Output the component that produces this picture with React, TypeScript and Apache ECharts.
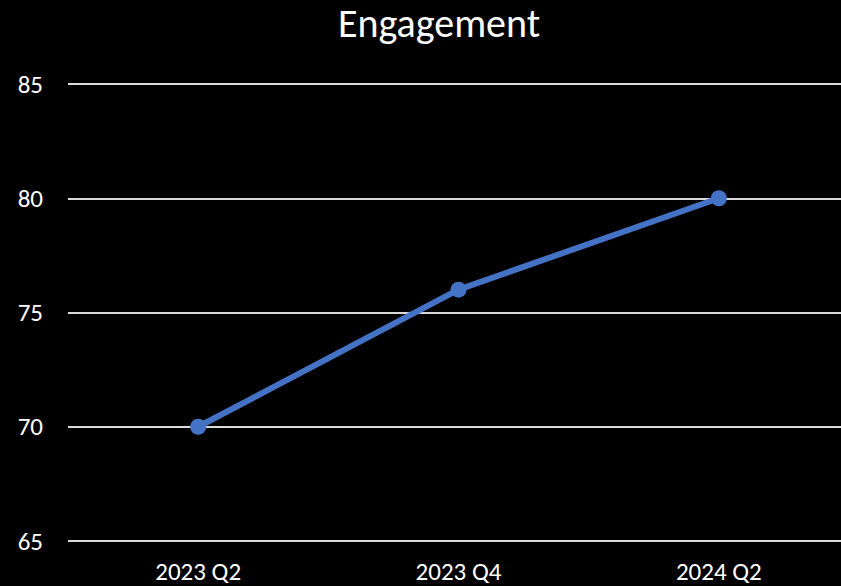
import React, { useEffect, useRef } from "react";
import * as echarts from "echarts";

const categories = ["2023 Q2", "2023 Q4", "2024 Q2"];
const engagement = [70, 76, 80];
const title = "Engagement";

export default function App() {
  const ref = useRef<HTMLDivElement>(null);
  useEffect(() => {
    document.body.style.margin = "0";
    document.body.style.background = "#000";
    const chart = echarts.init(ref.current!, null, { renderer: "svg" });
    const font = "Carlito, 'Liberation Sans', sans-serif";
    chart.setOption({
      animation: false,
      backgroundColor: "#000000",
      title: {
        text: title,
        left: 434,
        textAlign: "center",
        top: -2,
        textStyle: { color: "#ffffff", fontSize: 40, fontWeight: "normal", fontFamily: font },
      },
      grid: { left: 68, top: 84, width: 781, height: 457, containLabel: false },
      xAxis: {
        type: "category",
        data: categories,
        boundaryGap: true,
        axisLine: { show: false },
        axisTick: { show: false },
        axisLabel: { color: "#ffffff", fontSize: 25, fontFamily: font, margin: 18 },
      },
      yAxis: {
        type: "value",
        min: 65,
        max: 85,
        interval: 5,
        axisLine: { show: false },
        axisTick: { show: false },
        axisLabel: { color: "#ffffff", fontSize: 25, fontFamily: font, margin: 25 },
        splitLine: { lineStyle: { color: "#d9d9d9", width: 2 } },
      },
      series: [
        {
          type: "line",
          data: engagement,
          symbol: "circle",
          symbolSize: 16,
          lineStyle: { color: "#4472C4", width: 6 },
          itemStyle: { color: "#4472C4" },
        },
      ],
    });
    return () => chart.dispose();
  }, []);
  return (
    <div style={{ width: 841, height: 586, overflow: "hidden", background: "#000" }}>
      <div ref={ref} style={{ width: 870, height: 586 }} />
    </div>
  );
}
